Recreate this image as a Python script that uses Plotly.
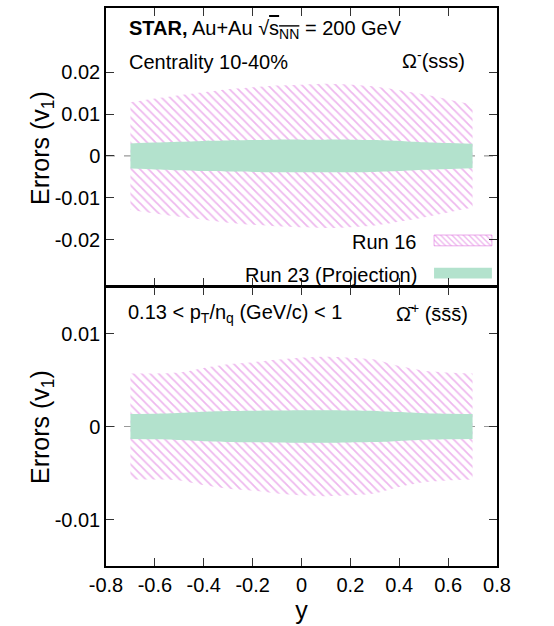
import plotly.graph_objects as go

# rapidity bins
y_vals = [-0.7, -0.6, -0.5, -0.4, -0.3, -0.2, -0.1, 0.0, 0.1, 0.2, 0.3, 0.4, 0.5, 0.6, 0.7]

# Omega^- (top panel) errors on v1
om_run16 = [0.0128, 0.0137, 0.0145, 0.0152, 0.0159, 0.0164, 0.0168, 0.0170, 0.0172, 0.0170, 0.0166, 0.0157, 0.0147, 0.0135, 0.0123]
om_run23 = [0.0030, 0.0032, 0.0034, 0.0036, 0.0037, 0.0038, 0.0039, 0.0039, 0.0039, 0.0039, 0.0038, 0.0036, 0.0033, 0.0031, 0.0029]

# anti-Omega^+ (bottom panel) errors on v1
aom_run16 = [0.0057, 0.0057, 0.0058, 0.0063, 0.0067, 0.0069, 0.0072, 0.0074, 0.0075, 0.0074, 0.0072, 0.0065, 0.0060, 0.0058, 0.0057]
aom_run23 = [0.00135, 0.00137, 0.00145, 0.00158, 0.00166, 0.00170, 0.00172, 0.00175, 0.00175, 0.00172, 0.00168, 0.00155, 0.00142, 0.00137, 0.00135]

x_ticks = [-0.8, -0.6, -0.4, -0.2, 0, 0.2, 0.4, 0.6, 0.8]
x_ticklabels = ["-0.8", "-0.6", "-0.4", "-0.2", "0", "0.2", "0.4", "0.6", "0.8"]
top_yticks = [-0.02, -0.01, 0, 0.01, 0.02]
top_yticklabels = ["-0.02", "-0.01", "0", "0.01", "0.02"]
bot_yticks = [-0.01, 0, 0.01]
bot_yticklabels = ["-0.01", "0", "0.01"]

HATCH = "#de72de"
GREEN = "#b3e2cd"
FONT = "Liberation Sans, Arial, sans-serif"

fig = go.Figure()


def band(err, xa, ya, hatch, name):
    upper = [e for e in err]
    lower = [-e for e in err]
    fig.add_trace(go.Scatter(x=y_vals, y=upper, mode="lines", line=dict(width=0, shape="spline", smoothing=0.6),
                             xaxis=xa, yaxis=ya, showlegend=False, hoverinfo="skip"))
    if hatch:
        fig.add_trace(go.Scatter(x=y_vals, y=lower, mode="lines", line=dict(width=0, shape="spline", smoothing=0.6),
                                 fill="tonexty", fillcolor="rgba(0,0,0,0)",
                                 fillpattern=dict(shape="\\", fgcolor=HATCH, bgcolor="rgba(0,0,0,0)",
                                                  size=6, solidity=0.3),
                                 xaxis=xa, yaxis=ya, showlegend=False, name=name))
    else:
        fig.add_trace(go.Scatter(x=y_vals, y=lower, mode="lines", line=dict(width=0, shape="spline", smoothing=0.6),
                                 fill="tonexty", fillcolor=GREEN,
                                 xaxis=xa, yaxis=ya, showlegend=False, name=name))


band(om_run16, "x", "y", True, "Run 16")
band(om_run23, "x", "y", False, "Run 23 (Projection)")
band(aom_run16, "x2", "y2", True, "Run 16")
band(aom_run23, "x2", "y2", False, "Run 23 (Projection)")

# legend swatches on an invisible overlay axis (fractions of the top panel)
leg_x = [0.839, 0.987, 0.987, 0.839, 0.839]
fig.add_trace(go.Scatter(x=leg_x, y=[0.143, 0.143, 0.182, 0.182, 0.143], mode="lines",
                         line=dict(width=0.6, color=HATCH), fill="toself", fillcolor="rgba(0,0,0,0)",
                         fillpattern=dict(shape="\\", fgcolor=HATCH, bgcolor="rgba(0,0,0,0)", size=4, solidity=0.35),
                         xaxis="x3", yaxis="y3", showlegend=False, hoverinfo="skip"))
fig.add_trace(go.Scatter(x=leg_x, y=[0.025, 0.025, 0.064, 0.064, 0.025], mode="lines",
                         line=dict(width=0), fill="toself", fillcolor=GREEN,
                         xaxis="x3", yaxis="y3", showlegend=False, hoverinfo="skip"))

axis_common = dict(showline=True, linecolor="black", linewidth=1.5, mirror="ticks", ticks="inside",
                   ticklen=8, tickcolor="#333", tickwidth=1, showgrid=False, zeroline=False,
                   tickfont=dict(family=FONT, size=20, color="black"))

split = 0.5 + 1.5 / 560

fig.update_layout(
    width=554, height=626,
    margin=dict(l=106, r=57, t=6, b=60),
    plot_bgcolor="rgba(0,0,0,0)", paper_bgcolor="white",
    font=dict(family=FONT, size=20, color="black"),
    xaxis=dict(domain=[0, 1], anchor="y", range=[-0.8, 0.8], tickvals=x_ticks, ticktext=x_ticklabels,
               showticklabels=False, **axis_common),
    yaxis=dict(domain=[split, 1], anchor="x", range=[-0.0309, 0.0353], tickvals=top_yticks,
               ticktext=top_yticklabels, **axis_common),
    xaxis2=dict(domain=[0, 1], anchor="y2", range=[-0.8, 0.8], tickvals=x_ticks, ticktext=x_ticklabels,
                title=dict(text="y", font=dict(family=FONT, size=25), standoff=4), **axis_common),
    yaxis2=dict(domain=[0, 0.5], anchor="x2", range=[-0.015, 0.015], tickvals=bot_yticks,
                ticktext=bot_yticklabels, **axis_common),
    xaxis3=dict(overlaying="x", anchor="y3", range=[0, 1], visible=False),
    yaxis3=dict(overlaying="y", anchor="x3", range=[0, 1], visible=False),
)

fig.add_hline(y=0, line=dict(color="#999", width=1.2, dash="dash"), layer="below", xref="x", yref="y")
fig.add_hline(y=0, line=dict(color="#999", width=1.2, dash="dash"), layer="below", xref="x2", yref="y2")

ann = [
    dict(x=0.0537, y=0.9616, xanchor="left", yanchor="middle",
         text="<b>STAR,</b> Au+Au √<span style='text-decoration:overline'>s<sub>NN</sub></span> = 200 GeV"),
    dict(x=0.0537, y=0.9036, xanchor="left", yanchor="middle", text="Centrality 10-40%"),
    dict(x=0.922, y=0.907, xanchor="right", yanchor="middle", text="Ω<sup>-</sup>(sss)"),
    dict(x=0.051, y=0.452, xanchor="left", yanchor="middle", text="0.13 < p<sub>T</sub>/n<sub>q</sub> (GeV/c) < 1"),
    dict(x=0.931, y=0.4536, xanchor="right", yanchor="middle", text="Ω\u0304<sup>+</sup> (s\u0304s\u0304s\u0304)"),
    dict(x=0.80, y=0.581, xanchor="right", yanchor="middle", text="Run 16"),
    dict(x=0.80, y=0.522, xanchor="right", yanchor="middle", text="Run 23 (Projection)"),
    dict(x=-0.165, y=0.75, xanchor="center", yanchor="middle", textangle=-90,
         text="Errors (v<sub>1</sub>)", font=dict(family=FONT, size=25)),
    dict(x=-0.165, y=0.25, xanchor="center", yanchor="middle", textangle=-90,
         text="Errors (v<sub>1</sub>)", font=dict(family=FONT, size=25)),
]
for a in ann:
    a.setdefault("font", dict(family=FONT, size=20, color="black"))
    fig.add_annotation(xref="paper", yref="paper", showarrow=False, **a)

fig.write_html("out.html")
